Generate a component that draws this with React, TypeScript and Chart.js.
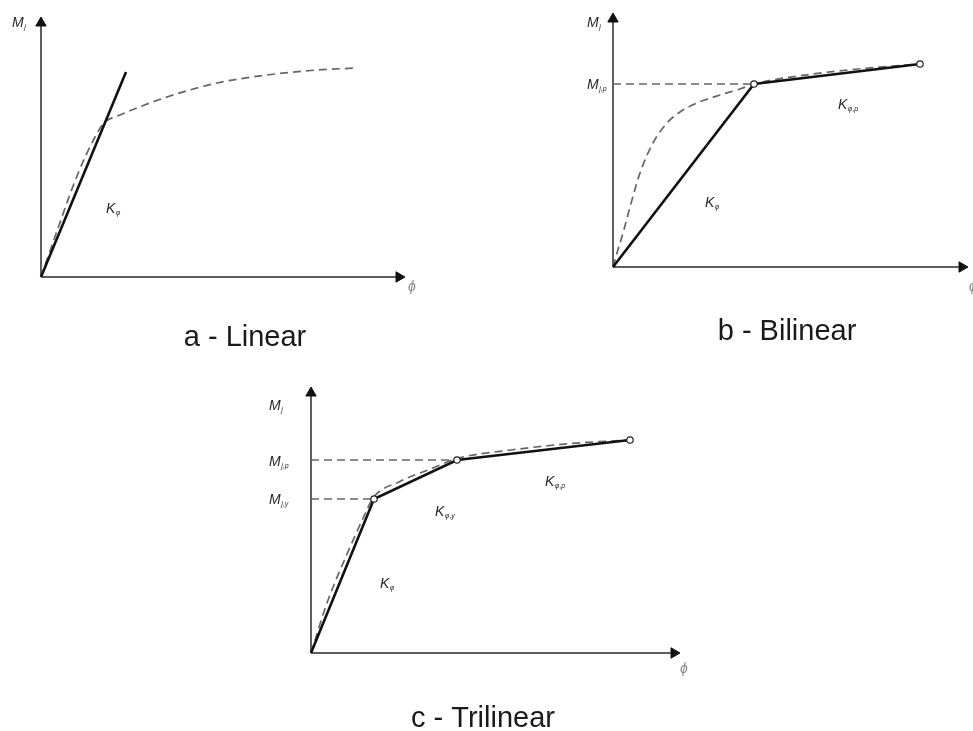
import React, { useEffect, useRef } from "react";
import { Chart, registerables } from "chart.js";

Chart.register(...registerables);

type Pt = { x: number; y: number };

// ---- Panel a: linear model (units: rotation φ along x, moment M_j along y) ----
const linearAxisX: Pt[] = [{ x: 0, y: 0 }, { x: 358, y: 0 }];
const linearAxisY: Pt[] = [{ x: 0, y: 0 }, { x: 0, y: 254 }];
const linearStiffness: Pt[] = [{ x: 0, y: 0 }, { x: 85, y: 205 }];
const linearCurve: Pt[] = [
  { x: 0, y: 0 }, { x: 16, y: 46 }, { x: 36, y: 101 }, { x: 54, y: 140 },
  { x: 63, y: 154 }, { x: 79, y: 162 }, { x: 126, y: 180 }, { x: 176, y: 194 },
  { x: 226, y: 202 }, { x: 276, y: 207 }, { x: 316, y: 209 },
];

// ---- Panel b: bilinear model ----
const bilinearAxisX: Pt[] = [{ x: 0, y: 0 }, { x: 349, y: 0 }];
const bilinearAxisY: Pt[] = [{ x: 0, y: 0 }, { x: 0, y: 248 }];
const bilinearBranches: Pt[] = [{ x: 0, y: 0 }, { x: 141, y: 183 }, { x: 307, y: 203 }];
const bilinearMjp = 183;
const bilinearCurve: Pt[] = [
  { x: 0, y: 0 }, { x: 4, y: 14 }, { x: 10, y: 34 }, { x: 17, y: 60 },
  { x: 27, y: 94 }, { x: 40, y: 124 }, { x: 54, y: 144 }, { x: 67, y: 155 },
  { x: 84, y: 164 }, { x: 107, y: 172 }, { x: 127, y: 178 }, { x: 141, y: 183 },
  { x: 200, y: 193 }, { x: 250, y: 198.5 }, { x: 307, y: 203 },
];

// ---- Panel c: trilinear model ----
const trilinearAxisX: Pt[] = [{ x: 0, y: 0 }, { x: 363, y: 0 }];
const trilinearAxisY: Pt[] = [{ x: 0, y: 0 }, { x: 0, y: 260 }];
const trilinearBranches: Pt[] = [
  { x: 0, y: 0 }, { x: 63, y: 154 }, { x: 146, y: 193 }, { x: 319, y: 213 },
];
const trilinearMjy = 154;
const trilinearMjp = 193;
const trilinearCurve: Pt[] = [
  { x: 0, y: 0 }, { x: 16, y: 50 }, { x: 36.5, y: 100 }, { x: 54.5, y: 140 },
  { x: 62, y: 155 }, { x: 89, y: 171.5 }, { x: 122, y: 185 }, { x: 146, y: 194.5 },
  { x: 200, y: 203 }, { x: 260, y: 209.5 }, { x: 319, y: 213 },
];

const FONT = '"Liberation Sans", Arial, Helvetica, sans-serif';

type Label = {
  text: string;
  sub?: string;
  x: number;
  y: number;
  size?: number;
  italic?: boolean;
  align?: CanvasTextAlign;
  color?: string;
};

// Draws symbol labels (with subscripts) and captions at data coordinates.
const textPlugin = {
  id: "diagramText",
  afterDatasetsDraw(chart: any, _args: any, opts: any) {
    const { ctx } = chart;
    const xs = chart.scales.x;
    const ys = chart.scales.y;
    for (const lb of (opts.labels || []) as Label[]) {
      const px = xs.getPixelForValue(lb.x);
      const py = ys.getPixelForValue(lb.y);
      const size = lb.size ?? 14;
      const italic = lb.italic ?? true;
      ctx.save();
      ctx.fillStyle = lb.color ?? "#262626";
      ctx.textBaseline = "alphabetic";
      ctx.textAlign = lb.align ?? "left";
      ctx.font = `${italic ? "italic " : ""}${size}px ${FONT}`;
      ctx.fillText(lb.text, px, py);
      if (lb.sub) {
        const w = ctx.measureText(lb.text).width;
        ctx.textAlign = "left";
        ctx.font = `italic ${Math.round(size * 0.52)}px ${FONT}`;
        ctx.fillText(lb.sub, px + w + 0.5, py + 2);
      }
      ctx.restore();
    }
  },
};

const axisDataset = (data: Pt[], rotation: number) => ({
  data,
  showLine: true,
  borderColor: "#5e5e5e",
  borderWidth: 2,
  pointRadius: [0, 6],
  pointStyle: "triangle",
  rotation: [0, rotation],
  pointBackgroundColor: "#111",
  pointBorderColor: "#111",
  pointBorderWidth: 1,
  order: 5,
});

const curveDataset = (data: Pt[]) => ({
  data,
  showLine: true,
  borderColor: "#666",
  borderWidth: 1.7,
  borderDash: [8, 5],
  pointRadius: 0,
  cubicInterpolationMode: "monotone",
  tension: 0.4,
  order: 3,
});

const stiffnessDataset = (data: Pt[], markers: boolean) => ({
  data,
  showLine: true,
  borderColor: "#111",
  borderWidth: 2.6,
  pointRadius: markers ? data.map((_, i) => (i === 0 ? 0 : 3.2)) : 0,
  pointBackgroundColor: "#fff",
  pointBorderColor: "#222",
  pointBorderWidth: 1.2,
  order: 1,
});

const levelDataset = (level: number, xEnd: number) => ({
  data: [{ x: 0, y: level }, { x: xEnd, y: level }],
  showLine: true,
  borderColor: "#666",
  borderWidth: 1.5,
  borderDash: [8, 5],
  pointRadius: 0,
  order: 4,
});

type Panel = {
  left: number;
  top: number;
  width: number;
  height: number;
  xRange: [number, number];
  yRange: [number, number];
  datasets: any[];
  labels: Label[];
};

const PHI = "\u03D5";

const panels: Panel[] = [
  {
    left: 0, top: 0, width: 486, height: 365,
    xRange: [-41, 445], yRange: [-88, 277],
    datasets: [
      axisDataset(linearAxisX, 90),
      axisDataset(linearAxisY, 0),
      curveDataset(linearCurve),
      stiffnessDataset(linearStiffness, false),
    ],
    labels: [
      { text: "M", sub: "j", x: -29, y: 250 },
      { text: "K", sub: "\u03C6", x: 65, y: 64 },
      { text: PHI, x: 367, y: -14, color: "#888" },
      { text: "a - Linear", x: 204, y: -69, size: 29, italic: false, align: "center", color: "#1a1a1a" },
    ],
  },
  {
    left: 486, top: 0, width: 487, height: 365,
    xRange: [-127, 360], yRange: [-98, 267],
    datasets: [
      axisDataset(bilinearAxisX, 90),
      axisDataset(bilinearAxisY, 0),
      levelDataset(bilinearMjp, bilinearBranches[1].x),
      curveDataset(bilinearCurve),
      stiffnessDataset(bilinearBranches, true),
    ],
    labels: [
      { text: "M", sub: "j", x: -26, y: 240 },
      { text: "M", sub: "j,p", x: -26, y: bilinearMjp - 5 },
      { text: "K", sub: "\u03C6", x: 92, y: 60 },
      { text: "K", sub: "\u03C6,p", x: 225, y: 158 },
      { text: PHI, x: 356, y: -24, color: "#888" },
      { text: "b - Bilinear", x: 174, y: -73, size: 29, italic: false, align: "center", color: "#1a1a1a" },
    ],
  },
  {
    left: 240, top: 365, width: 500, height: 366,
    xRange: [-71, 429], yRange: [-78, 288],
    datasets: [
      axisDataset(trilinearAxisX, 90),
      axisDataset(trilinearAxisY, 0),
      levelDataset(trilinearMjy, trilinearBranches[1].x),
      levelDataset(trilinearMjp, trilinearBranches[2].x),
      curveDataset(trilinearCurve),
      stiffnessDataset(trilinearBranches, true),
    ],
    labels: [
      { text: "M", sub: "j", x: -42, y: 243 },
      { text: "M", sub: "j,p", x: -42, y: trilinearMjp - 6 },
      { text: "M", sub: "j,y", x: -42, y: trilinearMjy - 5 },
      { text: "K", sub: "\u03C6", x: 69, y: 65 },
      { text: "K", sub: "\u03C6,y", x: 124, y: 137 },
      { text: "K", sub: "\u03C6,p", x: 234, y: 167 },
      { text: PHI, x: 369, y: -20, color: "#888" },
      { text: "c - Trilinear", x: 172, y: -74, size: 29, italic: false, align: "center", color: "#1a1a1a" },
    ],
  },
];

function PanelChart({ panel }: { panel: Panel }) {
  const ref = useRef<HTMLCanvasElement | null>(null);
  useEffect(() => {
    if (!ref.current) return;
    const chart = new Chart(ref.current, {
      type: "scatter",
      data: { datasets: panel.datasets },
      options: {
        animation: false,
        responsive: false,
        events: [],
        layout: { padding: 0, autoPadding: false },
        scales: {
          x: { type: "linear", display: false, min: panel.xRange[0], max: panel.xRange[1] },
          y: { type: "linear", display: false, min: panel.yRange[0], max: panel.yRange[1] },
        },
        plugins: {
          legend: { display: false },
          tooltip: { enabled: false },
          diagramText: { labels: panel.labels },
        } as any,
      },
      plugins: [textPlugin],
    } as any);
    return () => chart.destroy();
  }, [panel]);
  return (
    <canvas
      ref={ref}
      width={panel.width}
      height={panel.height}
      style={{ position: "absolute", left: panel.left, top: panel.top, width: panel.width, height: panel.height }}
    />
  );
}

export default function App() {
  return (
    <div style={{ position: "absolute", left: 0, top: 0, width: 973, height: 731, background: "#fff", overflow: "hidden" }}>
      {panels.map((p, i) => (
        <PanelChart key={i} panel={p} />
      ))}
    </div>
  );
}
